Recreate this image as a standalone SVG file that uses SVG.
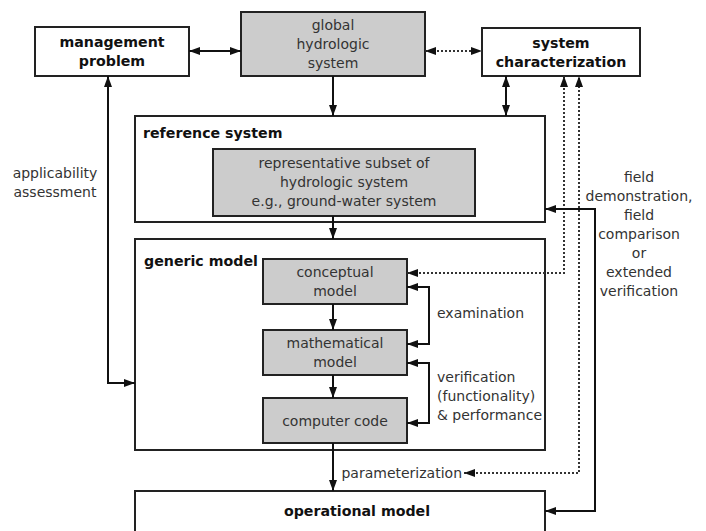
<svg xmlns="http://www.w3.org/2000/svg" width="706" height="531" viewBox="0 0 706 531">
<style>
  .box { fill: #ffffff; stroke: #222; stroke-width: 2; }
  .gbox { fill: #cccccc; stroke: #222; stroke-width: 2; }
  .t { font-family: "DejaVu Sans", Verdana, sans-serif; font-size: 14px; fill: #333; text-anchor: middle; }
  .tl { font-family: "DejaVu Sans", Verdana, sans-serif; font-size: 14px; fill: #333; text-anchor: start; }
  .b { font-family: "DejaVu Sans", Verdana, sans-serif; font-size: 14.2px; font-weight: bold; fill: #111; }
  .c { fill: none; stroke: #111; stroke-width: 2; }
  .d { fill: none; stroke: #333; stroke-width: 2; stroke-dasharray: 2 2; }
</style>
<defs>
  <marker id="ah" viewBox="0 0 11 8" refX="11" refY="4" markerWidth="11" markerHeight="8" markerUnits="userSpaceOnUse" orient="auto-start-reverse">
    <path d="M0,0 L11,4 L0,8 z" fill="#111"/>
  </marker>
</defs>
<rect width="706" height="531" fill="#ffffff"/>

<g id="management-problem">
  <rect class="box" x="35" y="27" width="154" height="49"/>
  <text class="b" x="112" y="47" text-anchor="middle">management</text>
  <text class="b" x="112" y="66" text-anchor="middle">problem</text>
</g>
<g id="global-hydrologic-system">
  <rect class="gbox" x="241" y="12" width="184" height="64"/>
  <text class="t" x="333" y="30">global</text>
  <text class="t" x="333" y="49">hydrologic</text>
  <text class="t" x="333" y="68">system</text>
</g>
<g id="system-characterization">
  <rect class="box" x="482" y="28" width="158" height="48"/>
  <text class="b" x="561" y="48" text-anchor="middle">system</text>
  <text class="b" x="561" y="67" text-anchor="middle">characterization</text>
</g>
<g id="reference-system">
  <rect class="box" x="135" y="116" width="410" height="106"/>
  <text class="b" x="143" y="138">reference system</text>
</g>
<g id="representative-subset">
  <rect class="gbox" x="213" y="149" width="262" height="67"/>
  <text class="t" x="344" y="168">representative subset of</text>
  <text class="t" x="344" y="187">hydrologic system</text>
  <text class="t" x="344" y="206">e.g., ground-water system</text>
</g>
<g id="generic-model">
  <rect class="box" x="135" y="239" width="410" height="211"/>
  <text class="b" x="144" y="266">generic model</text>
</g>
<g id="conceptual-model">
  <rect class="gbox" x="263" y="259" width="144" height="45"/>
  <text class="t" x="335" y="277">conceptual</text>
  <text class="t" x="335" y="296">model</text>
</g>
<g id="mathematical-model">
  <rect class="gbox" x="263" y="330" width="144" height="45"/>
  <text class="t" x="335" y="348">mathematical</text>
  <text class="t" x="335" y="367">model</text>
</g>
<g id="computer-code">
  <rect class="gbox" x="263" y="398" width="144" height="45"/>
  <text class="t" x="335" y="426">computer code</text>
</g>
<g id="operational-model">
  <rect class="box" x="135" y="491" width="410" height="60"/>
  <text class="b" x="357" y="516" text-anchor="middle">operational model</text>
</g>

<g id="connectors">
  <line class="c" x1="189" y1="51" x2="241" y2="51" marker-start="url(#ah)" marker-end="url(#ah)"/>
  <line class="d" x1="425" y1="51" x2="482" y2="51" marker-start="url(#ah)" marker-end="url(#ah)"/>
  <line class="c" x1="333" y1="76" x2="333" y2="116" marker-end="url(#ah)"/>
  <line class="c" x1="506" y1="76" x2="506" y2="116" marker-start="url(#ah)" marker-end="url(#ah)"/>
  <line class="c" x1="333" y1="216" x2="333" y2="239" marker-end="url(#ah)"/>
  <line class="c" x1="333" y1="304" x2="333" y2="330" marker-end="url(#ah)"/>
  <line class="c" x1="333" y1="375" x2="333" y2="398" marker-end="url(#ah)"/>
  <line class="c" x1="333" y1="443" x2="333" y2="491" marker-end="url(#ah)"/>
  <path class="c" d="M407,287 H429 V344 H407" marker-start="url(#ah)" marker-end="url(#ah)"/>
  <path class="c" d="M407,363 H429 V423 H407" marker-start="url(#ah)" marker-end="url(#ah)"/>
  <path class="c" d="M108,76 V383 H135" marker-start="url(#ah)" marker-end="url(#ah)"/>
  <path class="d" d="M407,273 H564 V76" marker-start="url(#ah)" marker-end="url(#ah)"/>
  <path class="d" d="M464,473 H579 V76" marker-start="url(#ah)" marker-end="url(#ah)"/>
  <path class="c" d="M545,209 H595 V511 H545" marker-start="url(#ah)" marker-end="url(#ah)"/>
  <text class="t" x="55" y="178">applicability</text>
  <text class="t" x="55" y="197">assessment</text>
  <text class="tl" x="437" y="318">examination</text>
  <text class="tl" x="437" y="382">verification</text>
  <text class="tl" x="437" y="401">(functionality)</text>
  <text class="tl" x="437" y="420">&amp; performance</text>
  <text class="t" x="462" y="478" style="text-anchor:end">parameterization</text>
  <text class="t" x="639" y="182">field</text>
  <text class="t" x="639" y="201">demonstration,</text>
  <text class="t" x="639" y="220">field</text>
  <text class="t" x="639" y="239">comparison</text>
  <text class="t" x="639" y="258">or</text>
  <text class="t" x="639" y="277">extended</text>
  <text class="t" x="639" y="296">verification</text>
</g>
</svg>
